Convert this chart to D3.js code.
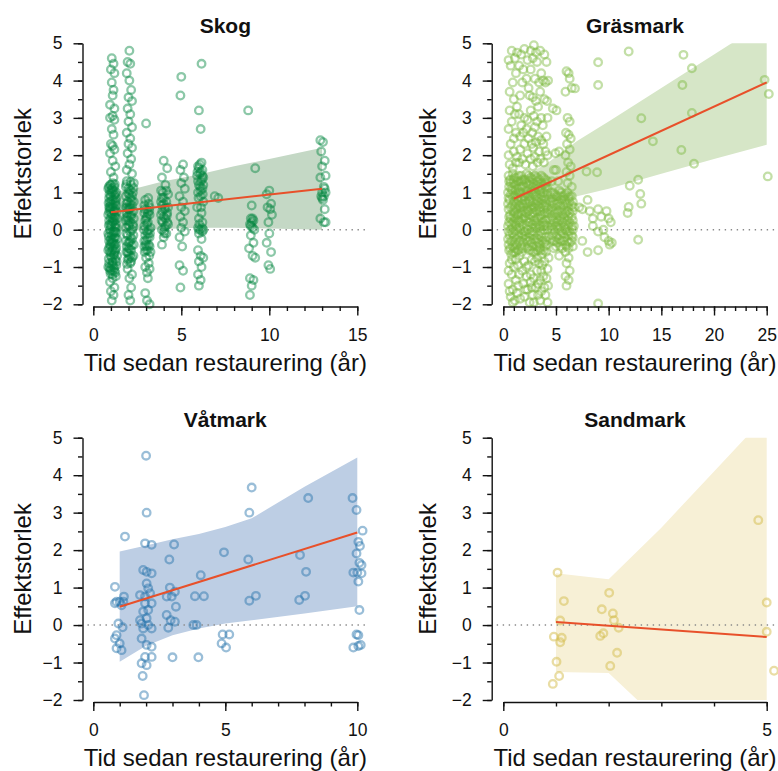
<!DOCTYPE html>
<html>
<head>
<meta charset="utf-8">
<script src="https://cdn.jsdelivr.net/npm/d3@7"></script>
<style>
  body { margin: 0; background: #fff; }
  svg { display: block; }
  text { font-family: "Liberation Sans", Arial, Helvetica, sans-serif; fill: #111; }
</style>
</head>
<body>
<svg id="chart" width="778" height="771"></svg>
<script>
// ---- Effect size vs. years since restoration, one panel per habitat ----

const titles = ["Skog", "Gräsmark", "Våtmark", "Sandmark"];
const yLabel = "Effektstorlek";
const xLabel = "Tid sedan restaurering (år)";

const yMajorTicks = [-2, -1, 0, 1, 2, 3, 4, 5];
const yMinorTicks = [-2, -1.5, -1, -0.5, 0, 0.5, 1, 1.5, 2, 2.5, 3, 3.5, 4, 4.5, 5];

const skogXTicks = [0, 5, 10, 15];
const skogXMinor = [0,1,2,3,4,5,6,7,8,9,10,11,12,13,14,15];
const grasXTicks = [0, 5, 10, 15, 20, 25];
const grasXMinor = [0,1,2,3,4,5,6,7,8,9,10,11,12,13,14,15,16,17,18,19,20,21,22,23,24,25];
const vatXTicks = [0, 5, 10];
const vatXMinor = [0,1,2,3,4,5,6,7,8,9,10];
const sandXTicks = [0, 5];
const sandXMinor = [0,1,2,3,4,5];

// Observations [years, effect size]
const skogPoints = [
  [1.05,4.6],[1.15,4.45],[1.0,4.3],[1.2,4.2],[1.05,3.95],[1.15,3.75],[1.1,3.6],[0.95,3.35],[1.2,3.25],[1.1,3.05],
  [0.95,3.0],[1.2,2.95],[1.05,2.7],[1.15,2.55],[1.0,2.3],[1.1,2.25],[1.2,2.15],[0.95,2.05],[1.1,1.85],[1.25,1.7],
  [1.0,1.55],[1.15,1.4],
  [0.95,1.2],[1.2,1.15],[1.05,1.0],[1.25,0.95],[0.9,0.85],[1.15,0.8],[1.0,0.7],[1.3,0.65],[0.95,0.55],[1.2,0.5],
  [1.05,0.4],[1.25,0.35],[0.9,0.25],[1.15,0.2],[1.0,0.1],[1.3,0.05],[0.95,0.0],[1.2,-0.05],[1.05,-0.15],[1.25,-0.2],
  [0.9,-0.3],[1.15,-0.35],[1.0,-0.45],[1.3,-0.5],[0.95,-0.6],[1.2,-0.65],[1.05,-0.75],[1.25,-0.8],[0.9,-0.9],[1.15,-0.95],
  [1.0,-1.05],[1.2,-1.1],[1.1,-1.2],[0.95,1.05],[1.1,0.6],[1.1,0.3],[1.1,-0.05],[1.1,-0.55],[1.1,-0.85],[1.0,0.9],
  [1.0,0.45],[1.0,-0.25],[1.2,0.25],[1.2,-0.4],
  [0.85,1.1],[1.3,1.0],[0.9,0.6],[1.3,0.85],[1.35,0.3],[0.85,0.4],[0.85,-0.1],[1.35,-0.25],[0.85,-0.55],[1.35,-0.7],
  [0.85,-1.0],[1.3,-0.95],[1.05,0.8],[1.05,0.15],[1.05,-0.35],[1.05,-0.95],[1.15,1.05],[1.15,0.5],[1.15,-0.1],[1.15,-0.7],
  [0.95,0.75],[0.95,0.15],[0.95,-0.4],[0.95,-1.1],[1.25,0.55],[1.25,-0.05],[1.25,-0.55],[1.25,-1.15],[1.0,1.2],[1.1,1.25],
  [0.88,1.15],[1.22,1.22],[1.08,1.12],[0.92,0.95],[1.28,0.78],[1.12,0.68],[0.87,0.72],[1.33,0.48],[1.02,0.58],[0.9,0.48],
  [1.18,0.38],[1.28,0.15],[0.88,0.12],[1.08,0.22],[1.32,-0.08],[0.98,-0.08],[1.18,-0.22],[0.88,-0.18],[1.28,-0.38],[1.02,-0.32],
  [0.9,-0.48],[1.12,-0.48],[1.22,-0.6],[0.98,-0.7],[0.88,-0.78],[1.32,-0.85],[1.08,-0.88],[0.92,-1.02],[1.18,-1.02],[1.28,-1.25],
  [0.98,-1.18],[1.08,-1.1],[1.18,0.92],[0.98,0.32],[1.22,0.08],[1.12,-0.28],[1.02,-0.6],[0.95,0.62],[1.25,0.72],[1.05,1.08],
  [1.1,-1.3],[0.95,-1.4],[1.2,-1.55],[1.0,-1.65],[1.15,-1.75],[1.05,-1.9],
  [2.05,4.8],[1.95,4.5],[2.1,4.45],[1.9,4.2],[2.05,4.0],[2.15,3.75],[2.0,3.55],[2.2,3.45],[1.95,3.25],[2.1,3.1],
  [2.0,2.9],[2.2,2.75],[1.9,2.6],[2.1,2.45],[2.0,2.3],[2.2,2.2],[1.95,2.05],[2.15,1.9],[2.05,1.75],[1.9,1.6],[2.2,1.5],
  [1.9,1.3],[2.15,1.2],[2.0,1.1],[2.25,1.0],[1.85,0.9],[2.1,0.85],[1.95,0.75],[2.2,0.65],[2.05,0.55],[1.9,0.45],
  [2.15,0.35],[2.0,0.25],[2.25,0.15],[1.85,0.05],[2.1,-0.05],[1.95,-0.15],[2.2,-0.25],[2.05,-0.35],[1.9,-0.45],[2.15,-0.55],
  [2.0,-0.65],[2.2,-0.75],[1.95,-0.8],[2.05,0.95],[2.05,0.1],[2.0,-0.5],
  [1.85,1.15],[2.3,1.25],[1.85,0.6],[2.3,0.75],[1.85,-0.3],[2.3,-0.4],[2.3,0.3],[1.85,0.25],[2.1,1.05],[2.1,0.6],
  [2.1,0.2],[2.1,-0.3],[2.1,-0.7],[1.95,0.35],[1.95,-0.6],[2.2,0.0],[2.2,0.9],[2.0,0.55],
  [1.88,1.22],[2.12,1.28],[2.28,1.12],[1.98,0.98],[2.18,0.78],[1.88,0.7],[2.08,0.68],[2.28,0.5],[1.92,0.58],[2.18,0.42],
  [1.88,0.32],[2.08,0.38],[2.28,0.08],[1.98,0.12],[1.88,-0.1],[2.12,-0.18],[2.28,-0.15],[1.98,-0.35],[2.18,-0.42],[1.88,-0.6],
  [2.08,-0.52],[2.28,-0.7],[2.02,-0.78],[2.15,-0.85],[1.92,-0.92],
  [2.1,-0.9],[1.95,-1.05],[2.2,-1.2],[2.05,-1.3],[2.15,-1.55],[2.0,-1.75],[2.1,-1.9],
  [3.0,2.85],[2.95,0.8],[3.15,0.7],[3.05,0.55],[2.9,0.45],[3.2,0.4],[3.0,0.3],[3.1,0.2],[2.9,0.1],[3.25,0.05],
  [3.05,-0.05],[2.95,-0.15],[3.2,-0.2],[3.0,-0.3],[3.15,-0.4],[2.9,-0.45],[3.1,-0.55],[3.25,-0.6],[3.0,-0.75],[3.15,-0.9],
  [2.9,0.65],[3.2,0.6],[3.1,0.45],[2.95,0.25],[3.15,0.0],[2.9,-0.3],[3.2,-0.45],[3.0,-0.55],[3.1,-0.1],[3.05,0.35],
  [2.92,0.55],[3.18,0.5],[3.05,0.15],[2.88,0.0],[3.22,-0.1],[3.08,-0.22],[2.92,-0.6],[3.18,-0.7],[3.05,-0.45],[3.12,0.85],
  [2.98,-0.4],
  [2.95,-1.0],[3.2,-1.05],[3.05,-1.15],[3.1,-1.3],[2.95,-1.7],[3.05,-1.9],[3.2,-2.0],
  [4.0,1.85],[4.2,1.65],[3.9,1.4],[4.1,1.2],[3.85,1.05],[4.25,0.95],[4.0,0.85],[4.15,0.75],[3.9,0.65],[4.05,0.55],
  [4.2,0.45],[3.85,0.4],[4.1,0.3],[3.95,0.2],[4.25,0.15],[4.05,0.05],[3.9,0.0],[4.15,-0.1],[4.0,-0.2],[3.9,-0.4],
  [3.85,0.75],[4.25,0.6],[4.0,0.35],[3.9,0.85],[4.2,0.2],[4.05,-0.1],[4.1,0.6],
  [3.92,0.5],[4.18,0.38],[4.0,0.7],[3.88,0.25],[4.12,0.1],[4.02,-0.05],[3.95,1.0],[4.15,1.05],
  [5.0,4.1],[4.95,3.6],[5.1,1.75],[4.95,1.6],[5.15,1.4],[5.0,1.25],[5.2,1.1],[4.9,0.9],[5.1,0.75],[5.0,0.6],
  [5.2,0.5],[4.95,0.35],[5.1,0.2],[5.0,0.05],[5.2,-0.05],[4.9,-0.2],[5.05,-0.45],[4.9,-0.95],[5.1,-1.1],[4.95,-1.55],
  [6.15,4.45],[6.0,3.2],[6.1,2.7],[6.15,1.8],[5.95,1.7],[6.2,1.6],[6.05,1.5],[5.9,1.45],[6.25,1.4],[6.1,1.3],
  [6.0,1.2],[6.2,1.1],[5.95,1.0],[6.1,0.9],[6.25,0.75],[5.9,0.6],[6.15,0.45],[6.0,0.3],[6.2,0.2],[5.95,0.05],
  [6.1,0.0],[6.25,0.0],[6.0,-0.1],[6.15,-0.25],[5.95,-0.55],[6.1,-0.7],[6.25,-0.75],[6.0,-0.85],[6.15,-1.0],[5.95,-1.2],
  [6.1,-1.35],[6.0,-1.5],
  [6.0,1.65],[6.2,1.45],[6.1,1.55],[5.95,1.3],[6.25,1.2],[6.1,1.05],[6.0,0.0],[6.2,-0.05],
  [6.05,1.75],[6.18,1.35],[5.92,1.55],[6.08,1.15],[6.22,0.95],[5.98,0.85],[6.12,0.6],[6.02,0.15],[6.18,0.05],
  [6.9,0.9],[7.1,0.85],
  [8.8,3.2],[9.2,1.65],[9.0,0.65],[8.95,0.3],[9.1,0.25],[8.9,0.15],[9.05,0.05],[9.15,0.0],[8.95,-0.15],[9.1,-0.35],
  [8.85,-0.5],[9.05,-0.7],[9.2,-0.75],[8.9,-1.3],[9.1,-1.35],[9.0,-1.5],[8.9,-1.75],[9.0,0.2],[9.05,0.3],[8.95,0.1],
  [10.0,1.05],[9.85,0.95],[10.1,0.7],[9.9,0.6],[10.05,0.55],[10.15,0.4],[9.95,0.2],[10.0,-0.1],[9.85,-0.35],[10.1,-0.6],
  [9.95,-0.95],[10.05,-1.05],
  [12.9,2.4],[13.05,2.35],[12.95,2.1],[13.15,1.85],[13.0,1.7],[13.2,1.45],[12.9,1.4],[13.1,1.15],[13.2,1.0],[12.95,0.9],
  [13.05,0.8],[13.15,0.55],[12.9,0.3],[13.1,0.2],[13.2,0.2],[13.0,1.0],[13.1,0.9],[13.0,0.85],[13.15,1.1]
];

const grasPoints = [
  [0.8,4.8],[1.1,4.6],[0.7,4.4],[1.2,4.2],[0.9,3.95],[0.6,3.2],[1.1,3.1],[0.8,2.9],[1.2,2.6],[0.7,2.3],
  [1.0,2.1],[1.3,1.95],[0.6,1.75],[0.9,1.65],
  [0.5,4.55],[1.3,4.75],[0.6,3.7],[1.0,3.5],[1.3,3.3],[0.5,2.7],[1.0,2.45],[0.5,2.0],[1.2,1.8],[1.5,4.4],
  [1.6,3.6],[1.5,3.1],[1.6,2.5],[1.5,1.8],
  [2.0,4.85],[1.7,4.7],[2.3,4.55],[1.9,4.3],[2.2,4.05],[1.8,3.95],[2.4,3.8],[2.0,3.0],[2.3,2.95],[1.7,2.8],
  [2.2,2.7],[1.9,2.6],[2.4,2.45],[2.0,2.3],[1.6,2.15],[2.3,2.05],[1.8,1.9],[2.1,1.75],
  [2.6,4.8],[2.6,4.3],[2.5,3.6],[2.6,3.2],[2.7,2.3],[2.6,1.9],
  [2.9,4.95],[3.1,4.75],[2.8,4.6],[3.2,4.5],[3.0,4.05],[3.4,3.95],[2.8,3.55],[3.1,3.45],[3.3,3.3],[2.9,3.05],
  [3.2,2.9],[3.0,2.75],[2.75,2.6],[3.3,2.5],[3.1,2.35],[2.85,2.2],[3.4,2.1],[3.0,1.95],[3.25,1.8],[2.8,1.7],
  [3.5,4.8],[3.6,4.2],[3.5,3.7],[3.6,3.0],[3.6,2.4],[3.5,1.9],
  [3.9,4.7],[4.1,4.5],[3.8,4.0],[4.0,3.95],[3.9,3.5],[4.15,3.45],[3.75,2.8],[4.0,2.1],[4.2,2.0],[3.85,1.8],
  [4.25,4.0],[4.2,3.0],[4.1,2.5],[3.8,2.3],
  [4.7,3.25],[5.05,3.2],[4.95,2.05],[5.3,2.1],[5.0,1.6],
  [6.0,4.25],[6.2,4.2],[6.3,4.05],[5.9,3.7],[6.5,3.8],[6.1,3.0],[6.3,2.9],[5.95,2.6],[6.2,2.55],[6.4,2.45],
  [6.05,2.3],[6.3,2.15],[5.9,2.0],[6.15,1.8],[6.4,1.7],[6.0,1.55],[6.3,1.45],[6.1,1.25],[6.5,1.15],
  [0.5,1.45],[0.9,1.5],[1.3,1.4],[1.7,1.45],[0.7,1.25],[1.1,1.2],[1.5,1.3],[1.9,1.2],[0.45,1.0],[0.85,1.05],
  [1.25,0.95],[1.65,1.0],[0.6,0.8],[1.0,0.75],[1.4,0.8],[1.8,0.7],[0.5,0.55],[0.95,0.5],[1.3,0.55],[1.75,0.45],
  [0.7,0.3],[1.1,0.3],[1.5,0.25],[1.9,0.3],[0.45,0.1],[0.85,0.05],[1.25,0.1],[1.65,0.0],[0.6,-0.15],[1.0,-0.2],
  [1.45,-0.15],[1.85,-0.2],[0.5,-0.4],[0.9,-0.45],[1.3,-0.4],[1.7,-0.45],[0.75,-0.65],[1.15,-0.6],[1.55,-0.7],
  [0.65,1.35],[1.05,1.4],[1.45,1.45],[1.85,1.35],[0.55,1.15],[0.95,1.25],[1.35,1.1],[1.75,1.15],[0.7,0.95],[1.1,0.9],
  [1.5,1.0],[1.95,0.9],[0.45,0.7],[0.85,0.65],[1.25,0.7],[1.65,0.6],[0.65,0.4],[1.05,0.45],[1.45,0.4],[1.85,0.5],
  [0.55,0.2],[0.95,0.2],[1.35,0.25],[1.8,0.15],[0.7,0.0],[1.1,-0.05],[1.55,0.05],[1.95,-0.05],[0.45,-0.25],[0.85,-0.3],
  [1.25,-0.25],[1.65,-0.3],[0.65,-0.5],[1.05,-0.5],[1.45,-0.55],[1.85,-0.5],
  [0.55,1.3],[0.95,1.35],[1.35,1.3],[1.75,1.3],[0.75,1.1],[1.15,1.05],[1.55,1.15],[0.5,0.85],[0.9,0.9],[1.3,0.85],
  [1.7,0.85],[0.7,0.6],[1.1,0.6],[1.5,0.65],[1.9,0.6],[0.55,0.35],[0.95,0.35],[1.35,0.4],[1.75,0.3],[0.75,0.15],
  [1.15,0.15],[1.55,0.2],[0.5,-0.05],[0.9,-0.1],[1.3,0.0],[1.75,-0.1],[0.7,-0.3],[1.1,-0.35],[1.5,-0.3],[1.9,-0.35],
  [0.55,-0.55],[0.95,-0.6],[1.35,-0.55],[1.75,-0.6],
  [2.2,1.5],[2.6,1.4],[3.0,1.45],[3.4,1.35],[3.8,1.4],[4.2,1.3],[2.4,1.2],[2.8,1.15],[3.2,1.2],[3.6,1.1],
  [4.0,1.15],[2.1,0.95],[2.5,0.9],[2.9,0.95],[3.3,0.85],[3.7,0.9],[4.1,0.8],[2.3,0.7],[2.7,0.65],[3.1,0.7],
  [3.5,0.6],[3.9,0.65],[4.25,0.55],[2.15,0.45],[2.55,0.4],[2.95,0.45],[3.35,0.35],[3.75,0.4],[4.15,0.3],[2.35,0.2],
  [2.75,0.15],[3.15,0.2],[3.55,0.1],[3.95,0.15],[2.1,-0.05],[2.5,-0.1],[2.9,-0.05],[3.3,-0.15],[3.7,-0.1],[4.1,-0.2],
  [2.3,-0.3],[2.7,-0.35],[3.1,-0.3],[3.5,-0.4],[3.9,-0.35],[2.45,-0.55],[2.85,-0.6],[3.25,-0.55],[3.65,-0.65],[4.05,-0.6],
  [2.4,1.45],[2.8,1.35],[3.2,1.4],[3.6,1.45],[4.0,1.35],[2.2,1.25],[2.6,1.2],[3.0,1.1],[3.4,1.15],[3.8,1.2],
  [4.2,1.1],[2.3,0.95],[2.7,1.0],[3.1,0.9],[3.5,0.95],[3.9,0.85],[2.1,0.7],[2.5,0.75],[2.9,0.6],[3.3,0.65],
  [3.7,0.7],[4.1,0.6],[2.35,0.5],[2.75,0.45],[3.15,0.5],[3.55,0.4],[3.95,0.45],[2.15,0.25],[2.55,0.2],[2.95,0.25],
  [3.35,0.15],[3.75,0.2],[4.15,0.1],[2.3,0.0],[2.7,-0.05],[3.1,0.05],[3.5,-0.05],[3.9,0.0],[2.1,-0.25],[2.5,-0.3],
  [2.9,-0.25],[3.3,-0.35],[3.7,-0.3],[4.1,-0.4],[2.25,-0.5],[2.65,-0.55],[3.05,-0.6],[3.45,-0.5],[3.85,-0.55],
  [2.05,1.35],[2.45,1.3],[2.85,1.25],[3.25,1.3],[3.65,1.25],[4.05,1.25],[2.25,1.05],[2.65,1.05],[3.05,1.0],[3.45,1.05],
  [3.85,1.0],[4.2,0.95],[2.05,0.8],[2.45,0.8],[2.85,0.75],[3.25,0.75],[3.65,0.8],[4.05,0.7],[2.25,0.55],[2.65,0.55],
  [3.05,0.6],[3.45,0.5],[3.85,0.55],[4.2,0.45],[2.05,0.35],[2.45,0.3],[2.85,0.35],[3.25,0.3],[3.65,0.3],[4.05,0.25],
  [2.25,0.1],[2.65,0.05],[3.05,0.1],[3.45,0.05],[3.85,0.1],[4.2,0.0],[2.05,-0.15],[2.45,-0.2],[2.85,-0.15],[3.25,-0.25],
  [3.65,-0.2],[4.05,-0.3],[2.35,-0.45],[2.75,-0.45],[3.15,-0.45],[3.55,-0.55],[3.95,-0.45],
  [4.5,1.0],[4.9,0.95],[5.3,1.05],[5.7,0.9],[6.1,1.0],[6.5,0.9],[4.7,0.75],[5.1,0.7],[5.5,0.8],[5.9,0.7],
  [6.3,0.75],[6.7,0.6],[4.5,0.5],[4.9,0.45],[5.3,0.5],[5.7,0.4],[6.1,0.5],[6.5,0.35],[4.7,0.25],[5.1,0.2],
  [5.5,0.25],[5.9,0.15],[6.3,0.2],[6.7,0.1],[4.5,0.0],[4.9,-0.05],[5.3,0.0],[5.7,-0.1],[6.1,-0.05],[6.5,-0.15],
  [4.7,-0.3],[5.1,-0.35],[5.5,-0.3],[5.9,-0.4],[6.3,-0.35],[6.6,-0.45],
  [4.7,1.0],[5.1,0.9],[5.5,1.0],[5.9,0.95],[6.3,0.9],[4.5,0.75],[4.9,0.7],[5.3,0.75],[5.7,0.65],[6.1,0.7],
  [6.5,0.65],[4.7,0.5],[5.1,0.45],[5.5,0.5],[5.9,0.45],[6.3,0.45],[4.5,0.25],[4.9,0.2],[5.3,0.25],[5.7,0.2],
  [6.1,0.25],[6.5,0.1],[4.7,0.0],[5.1,0.05],[5.5,-0.05],[5.9,0.0],[6.3,-0.05],[4.5,-0.25],[4.9,-0.3],[5.3,-0.25],
  [5.7,-0.3],[6.1,-0.3],[6.5,-0.3],[4.8,-0.5],[5.6,-0.5],[6.2,-0.5],
  [4.6,0.85],[5.0,0.8],[5.4,0.9],[5.8,0.8],[6.2,0.85],[6.6,0.75],[4.6,0.6],[5.0,0.55],[5.4,0.65],[5.8,0.55],
  [6.2,0.6],[6.6,0.5],[4.6,0.35],[5.0,0.3],[5.4,0.35],[5.8,0.3],[6.2,0.35],[6.6,0.25],[4.6,0.1],[5.0,0.1],
  [5.4,0.1],[5.8,0.05],[6.2,0.1],[6.6,0.0],[4.6,-0.15],[5.0,-0.2],[5.4,-0.15],[5.8,-0.2],[6.2,-0.15],[6.6,-0.2],
  [5.0,-0.45],[5.4,-0.45],[6.0,-0.45],
  [0.6,-0.9],[1.0,-1.0],[1.4,-0.95],[0.8,-1.2],[1.2,-1.35],[0.5,-1.45],[0.9,-1.6],[1.3,-1.7],[0.7,-1.8],[1.1,-1.9],
  [0.5,-1.1],[0.8,-0.8],[1.2,-0.8],[1.5,-1.2],[0.6,-1.65],[1.4,-1.5],[0.9,-1.95],[1.6,-1.85],
  [2.0,-0.85],[2.4,-0.95],[1.8,-1.1],[2.2,-1.25],[2.6,-1.2],[1.9,-1.45],[2.3,-1.6],[2.7,-1.55],[2.0,-1.8],[2.5,-1.95],
  [2.2,-1.0],[2.7,-0.8],[2.6,-1.4],[2.1,-1.6],[2.8,-1.75],
  [3.0,-0.85],[3.4,-0.9],[3.2,-1.1],[2.9,-1.3],[3.5,-1.35],[3.1,-1.55],[3.3,-1.75],[2.9,-1.95],[3.9,-0.85],[4.2,-1.05],
  [3.8,-1.25],[4.1,-1.3],[3.9,-1.55],[4.0,-1.75],[4.2,-1.95],
  [3.2,-0.75],[3.6,-1.1],[3.3,-1.45],[3.6,-1.65],[3.5,-1.9],[4.3,-0.75],[3.7,-0.95],[4.25,-1.5],
  [5.3,-0.7],[5.9,-0.6],[6.2,-0.75],[6.0,-0.9],[6.3,-1.1],[5.9,-1.25],[6.2,-1.35],[6.0,-1.5],
  [4.6,1.3],[5.2,1.3],[4.8,1.6],
  [6.8,3.79],[7.9,1.56],[8.9,1.54],[9.0,4.49],[9.0,3.88],[9.0,-1.98],
  [7.2,0.6],[7.5,0.55],[8.0,0.8],[8.2,0.5],[8.5,0.3],[8.5,0.1],[9.0,0.55],[9.3,0.35],[9.8,0.5],[10.0,0.3],
  [10.2,0.2],[9.5,0.0],[9.0,-0.05],[9.6,-0.2],[10.0,-0.3],[10.3,-0.35],[10.1,-0.4],[7.5,-0.3],[8.0,-0.6],[9.0,-0.55],
  [11.9,4.78],[11.9,0.61],[11.8,0.45],[12.0,1.18],[12.8,1.34],[12.8,-0.27],[13.0,0.96],[13.1,0.7],[13.1,2.99],[14.2,2.37],
  [16.9,2.14],[17.0,3.88],[17.1,4.69],[17.9,4.33],[17.9,3.13],[18.1,1.77],[24.8,4.02],[25.2,3.64],[25.1,1.43]
];

const vatPoints = [
  [0.82,1.02],[0.88,0.62],[1.0,0.62],[1.14,0.62],[0.82,0.58],[1.07,0.53],[1.16,0.76],[1.2,2.36],
  [0.95,0.04],[1.11,-0.06],[0.88,-0.27],[1.0,-0.49],[0.88,-0.62],[1.07,-0.67],[0.82,-0.36],
  [2.0,4.52],[2.02,3.0],[1.96,2.18],[2.21,2.14],[1.89,1.47],[2.02,1.42],[2.21,1.38],[2.02,1.11],[2.08,0.98],[1.77,0.8],
  [1.96,0.76],[2.15,0.85],[2.21,0.58],[1.89,0.36],[2.02,0.18],[1.83,0.04],[2.08,0.0],[1.89,-0.09],[2.21,-0.09],[1.83,-0.36],
  [2.02,-0.53],[2.21,-0.58],[1.96,-0.85],[2.21,-0.85],[1.83,-1.02],[2.02,-1.07],[1.87,-1.36],[1.92,-1.87],[1.96,0.58],[2.08,0.4],
  [1.77,0.13],
  [2.88,1.75],[3.06,2.15],[2.9,1.0],[3.09,0.89],[2.78,0.76],[2.97,0.76],[3.13,0.49],[2.78,0.27],[2.93,0.13],[3.09,0.09],
  [2.84,-0.07],[3.0,-0.86],
  [4.07,1.33],[3.85,0.77],[4.19,0.77],[3.79,0.0],[3.91,0.0],[3.98,-0.86],
  [4.95,1.94],[4.9,-0.25],[5.15,-0.25],[4.86,-0.49],[5.03,-0.6],
  [6.0,3.67],[5.91,3.0],[5.87,1.75],[5.91,0.65],[6.16,0.78],
  [8.14,3.39],[7.83,1.87],[8.06,1.42],[7.8,0.67],[8.02,0.78],
  [9.82,3.39],[9.97,3.07],[10.2,2.52],[10.04,2.22],[10.1,2.11],[9.97,1.91],[10.08,1.66],[10.16,1.6],[9.85,1.4],[10.0,1.4],
  [10.16,1.38],[10.04,1.16],[10.08,0.4],[9.97,-0.25],[10.04,-0.27],[9.85,-0.6],[10.04,-0.56],[10.13,-0.53]
];

const sandPoints = [
  [1.03,1.4],[1.15,0.64],[1.08,0.12],[0.96,-0.31],[1.11,-0.34],[1.08,-0.46],[1.01,-0.98],[1.06,-1.36],[0.94,-1.57],
  [2.01,0.86],[1.87,0.42],[2.08,0.31],[2.1,0.13],[2.19,-0.07],[1.9,-0.22],[1.84,-0.29],[2.16,-0.74],[2.03,-1.09],
  [4.84,2.8],[5.0,0.6],[5.0,-0.18],[5.14,-1.22]
];

// Fitted lines (endpoints) and confidence bands
const skogFitX = [1, 13],  skogFitY = [0.47, 1.10];
const grasFitX = [1, 25],  grasFitY = [0.83, 3.95];
const vatFitX  = [1, 10],  vatFitY  = [0.49, 2.47];
const sandFitX = [1, 5],   sandFitY = [0.08, -0.32];

const skogBandX  = [1, 2.5, 4, 6, 8, 10, 13];
const skogBandLo = [-0.05, -0.02, 0.02, 0.05, 0.05, 0.03, 0.0];
const skogBandHi = [1.0, 1.12, 1.3, 1.48, 1.7, 1.9, 2.2];

const grasBandX  = [1, 4, 7, 10, 15, 20, 25];
const grasBandLo = [0.35, 0.7, 0.9, 1.1, 1.5, 1.9, 2.28];
const grasBandHi = [1.3, 1.75, 2.38, 2.9, 3.8, 4.7, 5.6];

const vatBandX  = [1, 2, 3, 4, 5, 6, 8, 10];
const vatBandLo = [-0.98, -0.55, -0.27, -0.09, 0.04, 0.13, 0.31, 0.5];
const vatBandHi = [1.96, 2.12, 2.29, 2.43, 2.62, 2.85, 3.69, 4.47];

const sandBandX  = [1, 2, 3, 4, 5];
const sandBandLo = [-1.25, -1.28, -2.6, -4.0, -5.5];
const sandBandHi = [1.38, 1.22, 2.6, 4.1, 5.6];

// ---- layout ----
const svg = d3.select("#chart");
const cols = [
  { axisX: 82.5, x0: 93.3, x1: 357.3, yTitleX: 30.5 },
  { axisX: 491.7, x0: 503.3, x1: 766.7, yTitleX: 435.5 }
];
const rows = [
  { yTop: 43.3, yBot: 304.3, axisY: 306.5, titleY: 33 },
  { yTop: 437.7, yBot: 700, axisY: 702, titleY: 426.7 }
];

const panels = [
  { title: titles[0], col: 0, row: 0, xMax: 15, xTicks: skogXTicks, xMinor: skogXMinor,
    pts: skogPoints, fitX: skogFitX, fitY: skogFitY, bX: skogBandX, bLo: skogBandLo, bHi: skogBandHi,
    stroke: "rgb(0,132,61)", alpha: 0.45, band: "#c4d8c5" },
  { title: titles[1], col: 1, row: 0, xMax: 25, xTicks: grasXTicks, xMinor: grasXMinor,
    pts: grasPoints, fitX: grasFitX, fitY: grasFitY, bX: grasBandX, bLo: grasBandLo, bHi: grasBandHi,
    stroke: "rgb(122,184,60)", alpha: 0.45, band: "#d6e6c7" },
  { title: titles[2], col: 0, row: 1, xMax: 10, xTicks: vatXTicks, xMinor: vatXMinor,
    pts: vatPoints, fitX: vatFitX, fitY: vatFitY, bX: vatBandX, bLo: vatBandLo, bHi: vatBandHi,
    stroke: "rgb(31,111,168)", alpha: 0.45, band: "#bdcee4" },
  { title: titles[3], col: 1, row: 1, xMax: 5, xTicks: sandXTicks, xMinor: sandXMinor,
    pts: sandPoints, fitX: sandFitX, fitY: sandFitY, bX: sandBandX, bLo: sandBandLo, bHi: sandBandHi,
    stroke: "rgb(212,188,74)", alpha: 0.5, band: "#f7f0d6" }
];

panels.forEach((p, i) => {
  const c = cols[p.col], r = rows[p.row];
  const x = d3.scaleLinear().domain([0, p.xMax]).range([c.x0, c.x1]);
  const y = d3.scaleLinear().domain([-2, 5]).range([r.yBot, r.yTop]);
  const g = svg.append("g");

  // clip region for the band (plot area in y)
  const clipId = "clip" + i;
  svg.append("clipPath").attr("id", clipId)
    .append("rect").attr("x", c.axisX).attr("y", r.yTop)
    .attr("width", c.x1 - c.axisX + 20).attr("height", r.yBot - r.yTop);

  // confidence band
  const bandData = p.bX.map((v, k) => ({ x: v, lo: p.bLo[k], hi: p.bHi[k] }));
  g.append("path").datum(bandData)
    .attr("clip-path", `url(#${clipId})`)
    .attr("fill", p.band)
    .attr("d", d3.area().x(d => x(d.x)).y0(d => y(d.lo)).y1(d => y(d.hi)));

  // zero reference line
  g.append("line")
    .attr("x1", c.axisX + 5).attr("x2", x(p.xMax) + 9)
    .attr("y1", y(0)).attr("y2", y(0))
    .attr("stroke", "#8a8a8a").attr("stroke-width", 1.4)
    .attr("stroke-dasharray", "1.4,4.6");

  // observations
  g.append("g").selectAll("circle").data(p.pts).join("circle")
    .attr("cx", d => x(d[0])).attr("cy", d => y(d[1]))
    .attr("r", 3.8).attr("fill", "none")
    .attr("stroke", p.stroke).attr("stroke-opacity", p.alpha).attr("stroke-width", 2.3);

  // fitted line
  g.append("path").datum(p.fitX.map((v, k) => [v, p.fitY[k]]))
    .attr("fill", "none").attr("stroke", "#e8502a").attr("stroke-width", 2)
    .attr("d", d3.line().x(d => x(d[0])).y(d => y(d[1])));

  // y axis: major and minor ticks
  const yAxisG = g.append("g").attr("transform", `translate(${c.axisX},0)`);
  yAxisG.call(d3.axisLeft(y).tickValues(yMajorTicks).tickSize(9).tickSizeOuter(0).tickPadding(11).tickFormat(d3.format("d")));
  yAxisG.append("g").call(d3.axisLeft(y).tickValues(yMinorTicks).tickSize(4.5).tickSizeOuter(0).tickFormat(""))
    .select(".domain").remove();

  // x axis: major and minor ticks
  const xAxisG = g.append("g").attr("transform", `translate(0,${r.axisY})`);
  xAxisG.call(d3.axisBottom(x).tickValues(p.xTicks).tickSize(9).tickSizeOuter(0).tickPadding(13).tickFormat(d3.format("d")));
  xAxisG.append("g").call(d3.axisBottom(x).tickValues(p.xMinor).tickSize(4.5).tickSizeOuter(0).tickFormat(""))
    .select(".domain").remove();

  [yAxisG, xAxisG].forEach(a => {
    a.selectAll(".domain, line").attr("stroke", "#111").attr("stroke-width", 1.4);
    a.selectAll("text").attr("font-size", 17.5).attr("fill", "#2a2a2a")
      .attr("font-family", '"Liberation Sans", Arial, sans-serif');
  });

  // panel title
  g.append("text").attr("x", (c.x0 + c.x1) / 2).attr("y", r.titleY)
    .attr("text-anchor", "middle").attr("font-weight", "bold").attr("font-size", 21)
    .text(p.title);

  // axis titles
  g.append("text").attr("x", (c.x0 + c.x1) / 2).attr("y", r.axisY + 64)
    .attr("text-anchor", "middle").attr("font-size", 24).attr("fill", "#222")
    .text(xLabel);
  g.append("text")
    .attr("transform", `translate(${c.yTitleX},${(r.yTop + r.yBot) / 2}) rotate(-90)`)
    .attr("text-anchor", "middle").attr("font-size", 24).attr("fill", "#222")
    .text(yLabel);
});
</script>
</body>
</html>
